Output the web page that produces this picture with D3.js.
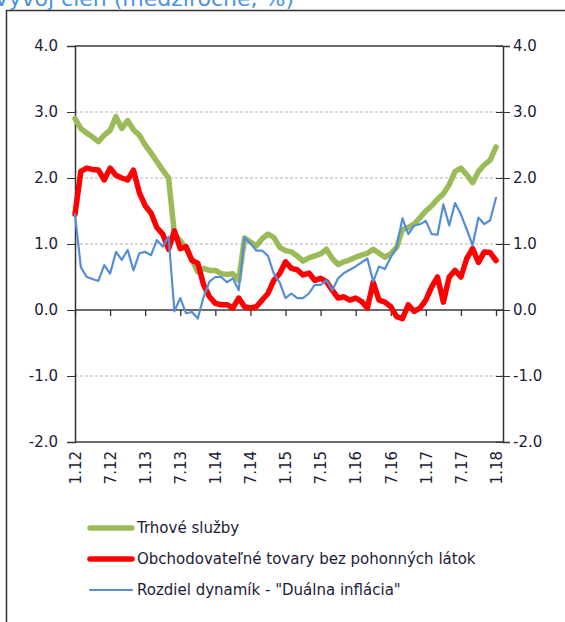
<!DOCTYPE html>
<html>
<head>
<meta charset="utf-8">
<script src="https://cdn.jsdelivr.net/npm/d3@7/dist/d3.min.js"></script>
<style>
  body { margin: 0; background: #fff; }
  svg { display: block; }
  text { font-family: "DejaVu Sans", Verdana, sans-serif; fill: #1c1c36; }
</style>
</head>
<body>
<script>
// tick labels on the time axis (every 6 months)
const xLabels = ["1.12", "7.12", "1.13", "7.13", "1.14", "7.14", "1.15",
                 "7.15", "1.16", "7.16", "1.17", "7.17", "1.18"];
const yTicks = [-2, -1, 0, 1, 2, 3, 4];

const seriesNames = ["Trhové služby",
                     "Obchodovateľné tovary bez pohonných látok",
                     "Rozdiel dynamík - \"Duálna inflácia\""];

// monthly values 1.12 .. 1.18
const trhoveSluzby = [2.90, 2.75, 2.68, 2.62, 2.55, 2.65, 2.72, 2.93, 2.75, 2.87,
  2.73, 2.65, 2.50, 2.38, 2.25, 2.12, 2.00, 1.15, 1.05, 0.93,
  0.76, 0.58, 0.63, 0.60, 0.60, 0.55, 0.54, 0.55, 0.45, 1.09,
  1.03, 0.97, 1.08, 1.15, 1.10, 0.95, 0.90, 0.88, 0.82, 0.74,
  0.79, 0.82, 0.85, 0.92, 0.78, 0.69, 0.73, 0.76, 0.80, 0.83,
  0.86, 0.92, 0.86, 0.80, 0.85, 0.95, 1.22, 1.25, 1.30, 1.40,
  1.50, 1.58, 1.68, 1.76, 1.90, 2.10, 2.15, 2.05, 1.93, 2.10,
  2.20, 2.27, 2.47];

const obchodovatelneTovary = [1.45, 2.10, 2.15, 2.13, 2.12, 1.97, 2.15, 2.04, 2.00, 1.97,
  2.12, 1.78, 1.58, 1.47, 1.25, 1.15, 0.92, 1.20, 0.93, 0.96,
  0.75, 0.71, 0.38, 0.20, 0.10, 0.08, 0.08, 0.03, 0.18, 0.05,
  0.03, 0.05, 0.15, 0.25, 0.45, 0.55, 0.73, 0.63, 0.61, 0.53,
  0.56, 0.45, 0.48, 0.43, 0.30, 0.18, 0.20, 0.15, 0.18, 0.13,
  0.03, 0.42, 0.15, 0.12, 0.05, -0.10, -0.13, 0.08, -0.02, 0.03,
  0.15, 0.35, 0.50, 0.12, 0.50, 0.60, 0.50, 0.78, 0.93, 0.72,
  0.88, 0.87, 0.75];

const rozdielDynamik = [1.45, 0.65, 0.50, 0.47, 0.44, 0.68, 0.55, 0.88, 0.76, 0.91,
  0.60, 0.86, 0.88, 0.83, 1.06, 0.96, 1.11, -0.02, 0.18, -0.05,
  -0.03, -0.13, 0.20, 0.43, 0.50, 0.50, 0.42, 0.48, 0.30, 1.10,
  1.01, 0.90, 0.90, 0.82, 0.55, 0.42, 0.18, 0.25, 0.18, 0.18,
  0.25, 0.38, 0.38, 0.45, 0.30, 0.48, 0.56, 0.61, 0.66, 0.72,
  0.78, 0.43, 0.66, 0.62, 0.80, 0.95, 1.39, 1.15, 1.28, 1.30,
  1.35, 1.15, 1.14, 1.60, 1.28, 1.62, 1.45, 1.22, 0.98, 1.40,
  1.30, 1.36, 1.70];

const seriesData = [trhoveSluzby, obchodovatelneTovary, rozdielDynamik];
const seriesColors = ["#9bbb59", "#ff0000", "#558ed5"];
const seriesWidths = [5.5, 5.5, 2.2];

let svg = null;
let x, y = null;
let plot = null;

appendSvg("body");
setupScales();
appendFrame();
appendGrid();
appendAxes();
appendLines();
appendLegend();

function appendSvg(domElement) {
  svg = d3.select(domElement).append("svg")
    .attr("width", 565)
    .attr("height", 622);
}

function setupScales() {
  plot = {left: 75, right: 503, top: 46, bottom: 442};
  x = d3.scaleLinear()
    .domain([0, trhoveSluzby.length - 1])
    .range([plot.left, 496]);
  y = d3.scaleLinear()
    .domain([-2, 4])
    .range([plot.bottom, plot.top]);
}

function appendFrame() {
  svg.append("rect")
    .attr("x", 6.5).attr("y", 10.5)
    .attr("width", 700).attr("height", 700)
    .attr("fill", "none")
    .attr("stroke", "#333")
    .attr("stroke-width", 1.5);

  // the title sits mostly above the picture, as in the original
  svg.append("text")
    .attr("x", -6).attr("y", 6)
    .style("font-size", "22px")
    .style("fill", "#4a94dc")
    .text("Vývoj cien (medziročne, %)");
}

function appendGrid() {
  // dashed gridlines
  svg.append("g").selectAll("line")
    .data(yTicks.filter(d => d !== 0 && d !== 4 && d !== -2))
    .enter().append("line")
      .attr("x1", plot.left).attr("x2", plot.right)
      .attr("y1", d => y(d)).attr("y2", d => y(d))
      .attr("stroke", "#b5b5b5")
      .attr("stroke-dasharray", "3,2");

  // top, zero and bottom lines are solid
  svg.append("g").selectAll("line")
    .data([4, 0, -2])
    .enter().append("line")
      .attr("x1", plot.left).attr("x2", plot.right)
      .attr("y1", d => y(d)).attr("y2", d => y(d))
      .attr("stroke", "#3a3a3a")
      .attr("stroke-width", 1.5);
}

function appendAxes() {
  const fmt = d => d.toFixed(1);

  const left = svg.append("g")
    .attr("transform", "translate(" + plot.left + ",0)")
    .call(d3.axisLeft(y).tickValues(yTicks).tickFormat(fmt).tickSize(8).tickPadding(9));

  const right = svg.append("g")
    .attr("transform", "translate(" + plot.right + ",0)")
    .call(d3.axisRight(y).tickValues(yTicks).tickFormat(fmt).tickSize(7).tickPadding(3));
  // right ticks also go a bit inside
  right.selectAll(".tick").append("line")
    .attr("x1", -7).attr("x2", 0)
    .attr("stroke", "#333");

  [left, right].forEach(function(g) {
    g.select(".domain").attr("stroke", "#333").attr("stroke-width", 1.5);
    g.selectAll(".tick line").attr("stroke", "#333");
    g.selectAll("text").style("font-size", "15px").style("fill", "#1c1c36");
  });

  // ticks hanging from the zero line
  const zero = svg.append("g")
    .attr("transform", "translate(0," + y(0) + ")")
    .call(d3.axisBottom(x).tickValues(d3.range(0, 73, 6)).tickSize(6).tickFormat(""));
  zero.select(".domain").remove();
  zero.selectAll(".tick line").attr("stroke", "#333").attr("stroke-width", 1.3);

  // rotated date labels under the plot
  const bottom = svg.append("g")
    .attr("transform", "translate(0," + plot.bottom + ")")
    .call(d3.axisBottom(x).tickValues(d3.range(0, 73, 6)).tickSize(0)
      .tickFormat(d => xLabels[d / 6]));
  bottom.select(".domain").remove();
  bottom.selectAll("text")
    .attr("transform", "rotate(-90)")
    .attr("text-anchor", "end")
    .attr("x", -9)
    .attr("y", 0)
    .attr("dy", "0.35em")
    .style("font-size", "15px")
    .style("fill", "#1c1c36");
}

function appendLines() {
  const line = d3.line()
    .x((d, i) => x(i))
    .y(d => y(d));

  svg.append("g").selectAll("path")
    .data(seriesData)
    .enter().append("path")
      .attr("d", line)
      .attr("fill", "none")
      .attr("stroke", (d, i) => seriesColors[i])
      .attr("stroke-width", (d, i) => seriesWidths[i])
      .attr("stroke-linejoin", "round")
      .attr("stroke-linecap", "round");
}

function appendLegend() {
  const legend = svg.append("g").attr("class", "legend");
  const rows = legend.selectAll("g")
    .data(seriesNames)
    .enter().append("g")
      .attr("transform", (d, i) => "translate(90," + (528 + 31 * i) + ")");

  rows.append("line")
    .attr("x1", 0).attr("x2", 42)
    .attr("stroke", (d, i) => seriesColors[i])
    .attr("stroke-width", (d, i) => seriesWidths[i])
    .attr("stroke-linecap", "round");

  rows.append("text")
    .attr("x", 47)
    .attr("dy", "0.35em")
    .style("font-size", "15px")
    .text(d => d);
}
</script>
</body>
</html>
